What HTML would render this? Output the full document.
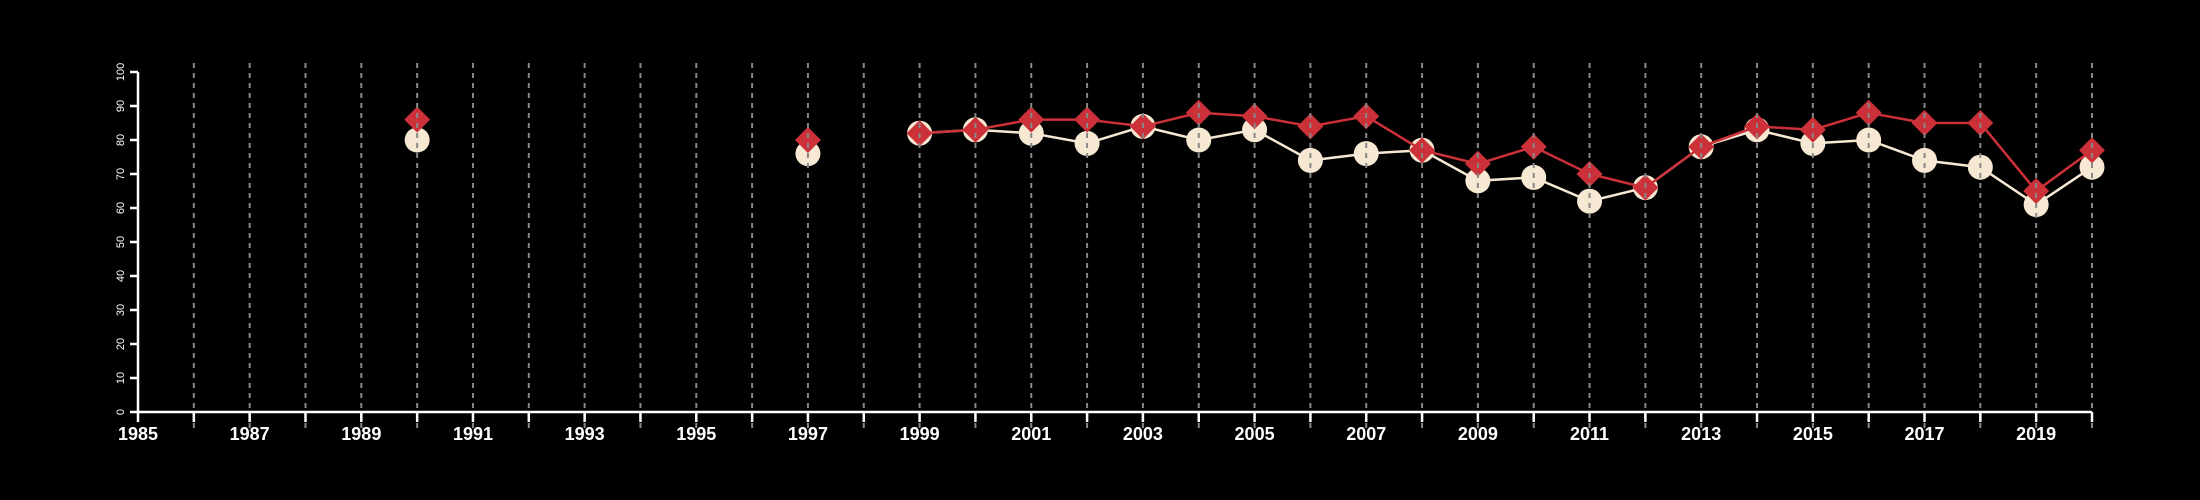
<!DOCTYPE html>
<html><head><meta charset="utf-8">
<style>html,body{margin:0;padding:0;background:#000;}svg{display:block;}</style>
</head><body>
<svg id="chart" width="2200" height="500" xmlns="http://www.w3.org/2000/svg" style="background:#000;font-family:'Liberation Sans',sans-serif;">
<g id="series"></g>
<g id="grid"></g>
<g id="axes"></g>
</svg>
<script>
const years = [1990,1997,1999,2000,2001,2002,2003,2004,2005,2006,2007,2008,2009,2010,2011,2012,2013,2014,2015,2016,2017,2018,2019,2020];
const whiteSeries = [80,76,82,83,82,79,84,80,83,74,76,77,68,69,62,66,78,83,79,80,74,72,61,72];
const redSeries = [86,80,82,83,86,86,84,88,87,84,87,77,73,78,70,66,78,84,83,88,85,85,65,77];
const yTicks = [0,10,20,30,40,50,60,70,80,90,100];
const xMin = 1985, xMax = 2020, lineStart = 1999;

const NS = 'http://www.w3.org/2000/svg';
const X0 = 138, X1 = 2092, Y0 = 412, Y1 = 72;
function xs(v){ return X0 + (v - xMin) * (X1 - X0) / (xMax - xMin); }
function ys(v){ return Y0 - v * (Y0 - Y1) / 100; }
function mk(tag, attrs, parent){ const e = document.createElementNS(NS, tag); for (const k in attrs) e.setAttribute(k, attrs[k]); parent.appendChild(e); return e; }

const series = document.getElementById('series');
const grid = document.getElementById('grid');
const axes = document.getElementById('axes');

function drawSeries(vals, color, name, shape){
  const pts = [];
  years.forEach((y,i)=>{ if (y >= lineStart) pts.push(xs(y)+','+ys(vals[i])); });
  const pl = mk('polyline', {points: pts.join(' '), fill:'none', stroke: color, 'stroke-width': 2.5}, series);
  
  
  years.forEach((y,i)=>{
    const cx = xs(y), cy = ys(vals[i]);
    let m;
    if (shape === 'circle') m = mk('circle', {cx: cx, cy: cy, r: 12.5, fill: color}, series);
    else m = mk('polygon', {points: `${cx},${cy-13} ${cx+13},${cy} ${cx},${cy+13} ${cx-13},${cy}`, fill: color}, series);
    
    
  });
}
drawSeries(whiteSeries, '#f7e8d3', 'white-series', 'circle');
drawSeries(redSeries, '#cc3038', 'red-series', 'diamond');

for (let y = xMin + 1; y <= xMax; y++) {
  const g = mk('line', {x1: xs(y), x2: xs(y), y1: 63, y2: 428, stroke: '#888', 'stroke-width': 2, 'stroke-dasharray': '5,5'}, grid);
  
  
}

const xa = mk('line', {x1: X0, x2: X1, y1: Y0, y2: Y0, stroke: '#fff', 'stroke-width': 2.5}, axes);


const ya = mk('line', {x1: X0, x2: X0, y1: Y1, y2: Y0, stroke: '#fff', 'stroke-width': 2.5}, axes);



for (let y = xMin; y <= xMax; y++) {
  const t = mk('line', {x1: xs(y), x2: xs(y), y1: Y0, y2: Y0 + 10, stroke: '#fff', 'stroke-width': 2.5}, axes);
  
  
  if ((y - xMin) % 2 === 0 && y < xMax) {
    const lb = mk('text', {x: xs(y), y: 440, fill: '#fff', 'font-size': 18, 'font-weight': 'bold', 'text-anchor': 'middle'}, axes);
    lb.textContent = y;
    
    
  }
}
yTicks.forEach(v => {
  const t = mk('line', {x1: X0 - 8, x2: X0, y1: ys(v), y2: ys(v), stroke: '#fff', 'stroke-width': 2.5}, axes);
  
  
  const lb = mk('text', {x: 0, y: 0, fill: '#fff', 'font-size': 11, 'text-anchor': 'middle', transform: `translate(${X0 - 14},${ys(v)}) rotate(-90)`}, axes);
  lb.textContent = v;
  
  
});
</script>
</body></html>
